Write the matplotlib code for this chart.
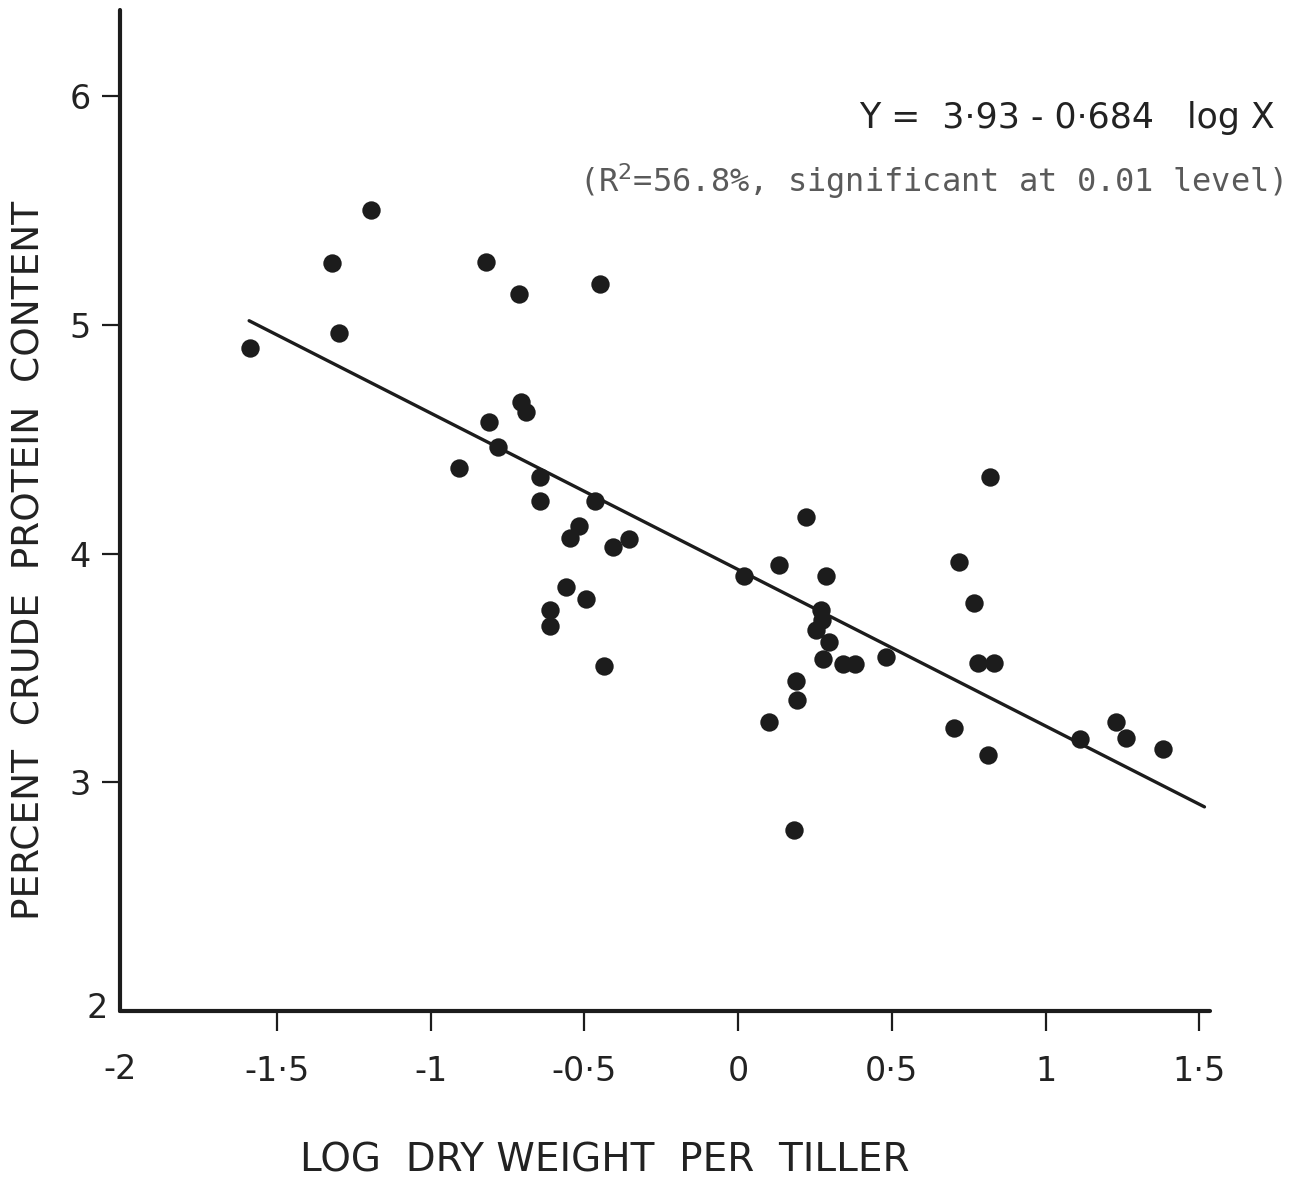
import numpy as np
import matplotlib
matplotlib.use("Agg")
import matplotlib.pyplot as plt

# log dry weight per tiller (x) and percent crude protein content (y)
log_dry_weight = [
    -1.586, -1.321, -1.298, -1.195, -0.821, -0.713, -0.450, -0.810, -0.781,
    -0.705, -0.688, -0.908, -0.645, -0.645, -0.464, -0.517, -0.545, -0.407,
    -0.355, -0.558, -0.496, -0.613, -0.610, -0.436,
    0.018, 0.133, 0.222, 0.287, 0.271, 0.272, 0.252, 0.295, 0.275, 0.341,
    0.382, 0.480, 0.190, 0.192, 0.100, 0.182,
    0.820, 0.718, 0.766, 0.780, 0.831, 0.704, 0.813, 1.111, 1.228, 1.261,
    1.382,
]
crude_protein = [
    4.90, 5.27, 4.965, 5.50, 5.274, 5.133, 5.177, 4.576, 4.467,
    4.664, 4.617, 4.372, 4.333, 4.231, 4.231, 4.122, 4.069, 4.027,
    4.062, 3.852, 3.800, 3.753, 3.684, 3.510,
    3.902, 3.950, 4.161, 3.902, 3.753, 3.709, 3.666, 3.613, 3.539, 3.517,
    3.517, 3.549, 3.444, 3.360, 3.262, 2.791,
    4.336, 3.962, 3.782, 3.520, 3.520, 3.238, 3.119, 3.188, 3.265, 3.192,
    3.144,
]

# fitted regression: Y = 3.93 - 0.684 log X
intercept = 3.93
slope = -0.684
fit_range = [-1.59, 1.517]

x_ticks = [-2, -1.5, -1, -0.5, 0, 0.5, 1, 1.5]
x_tick_labels = ["-2", "-1·5", "-1", "-0·5", "0", "0·5", "1", "1·5"]
y_ticks = [2, 3, 4, 5, 6]
y_tick_labels = ["2", "3", "4", "5", "6"]

ink = "#1c1c1c"
text_ink = "#222222"

fig = plt.figure(figsize=(12.98, 11.79), dpi=100)
ax = fig.add_axes([120 / 1298, 1 - 1011 / 1179, 1090 / 1298, 1001 / 1179])

ax.scatter(log_dry_weight, crude_protein, s=175, color=ink, linewidths=0,
           zorder=3)

fx = np.array(fit_range)
ax.plot(fx, intercept + slope * fx, color=ink, lw=2.4, zorder=2,
        solid_capstyle="round")

ax.set_xlim(-2.01, 1.535)
ax.set_ylim(2.0, 6.376)

for side in ("top", "right"):
    ax.spines[side].set_visible(False)
for side in ("left", "bottom"):
    ax.spines[side].set_linewidth(3.0)
    ax.spines[side].set_color(ink)
    ax.spines[side].set_capstyle("round")

tick_font = dict(family="DejaVu Sans", size=24, color=text_ink)
ax.set_xticks(x_ticks[1:])
ax.set_xticklabels(x_tick_labels[1:], **tick_font)
ax.set_yticks(y_ticks[1:])
ax.set_yticklabels(y_tick_labels[1:], **tick_font)
ax.tick_params(axis="x", direction="out", length=14.5, width=1.6, color=ink,
               pad=17)
ax.tick_params(axis="y", direction="out", length=13, width=1.6, color=ink,
               pad=8)

# the "-2" and "2" labels at the origin corner
ax.text(-2.01, -0.058, x_tick_labels[0], transform=ax.get_xaxis_transform(),
        ha="center", va="center", **tick_font)
ax.text(-0.011, 2.01, y_tick_labels[0], transform=ax.get_yaxis_transform(),
        ha="right", va="center", **tick_font)

fig.text(605 / 1298, 1 - 1160 / 1179, "LOG  DRY WEIGHT  PER  TILLER",
         ha="center", va="center", family="DejaVu Sans", size=28,
         color=text_ink)
fig.text(30 / 1298, 1 - 560 / 1179, "PERCENT  CRUDE  PROTEIN  CONTENT",
         ha="center", va="center", rotation=90, family="DejaVu Sans",
         size=27, color=text_ink)

fig.text(1275 / 1298, 1 - 118 / 1179, "Y =  3·93 - 0·684   log X",
         ha="right", va="center", family="DejaVu Sans", size=25,
         color=text_ink)
fig.text(1283 / 1298, 1 - 181 / 1179,
         "(R$^{2}$=56.8%, significant at 0.01 level)",
         ha="right", va="center", family="DejaVu Sans Mono", size=23,
         color="#5a5a5a")

fig.savefig("out.png", dpi=100, facecolor="white")
